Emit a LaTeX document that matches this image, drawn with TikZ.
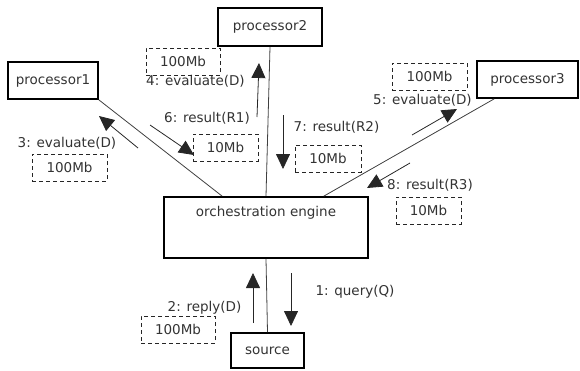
\documentclass[tikz,border=0pt]{standalone}
\usepackage{fontspec}
\setmainfont{DejaVu Sans}
\usetikzlibrary{arrows.meta,calc}
\begin{document}
\begin{tikzpicture}[x=1pt,y=-1pt,
  every node/.style={font=\fontsize{13.5}{15}\selectfont, text=black!80},
  procbox/.style={draw=black, line width=1.8pt, inner sep=0pt},
  sizebox/.style={draw=black!85, line width=0.8pt, dash pattern=on 4pt off 3pt, inner sep=0pt, minimum height=27pt},
  link/.style={draw=black!75, line width=0.8pt},
  msg/.style={draw=black!85, line width=0.8pt, -{Triangle[length=15pt,width=14pt]}},
  lbl/.style={inner sep=0pt}]
\useasboundingbox (0,0) rectangle (580,370);
% main boxes
\node[procbox, minimum width=90pt, minimum height=37pt] (p1) at (53,80.5) {processor1};
\node[procbox, minimum width=104pt, minimum height=38pt] (p2) at (270,27) {processor2};
\node[procbox, minimum width=101pt, minimum height=37pt] (p3) at (527.5,79.5) {processor3};
\node[procbox, minimum width=204pt, minimum height=61pt] (eng) at (266,227.5) {};
\node[lbl] (englabel) at (266,213) {orchestration engine};
\node[procbox, minimum width=73pt, minimum height=35pt] (src) at (267.5,350.5) {source};
% links
\draw[link] (p1.south east) -- ($(eng.north west)+(59,0)$);
\draw[link] (p2.south) -- (eng.north);
\draw[link] ($(p3.south west)+(18,0)$) -- ($(eng.north east)+(-45,0)$);
\draw[link] (eng.south) -- (src.north);
% message arrow end points
\coordinate (a3s) at (138,148); \coordinate (a3e) at (99,116);
\coordinate (a6s) at (150,125); \coordinate (a6e) at (194,155);
\coordinate (a4s) at (257,117); \coordinate (a4e) at (259,63);
\coordinate (a7s) at (283,115); \coordinate (a7e) at (283,169);
\coordinate (a5s) at (412,135); \coordinate (a5e) at (457,109);
\coordinate (a8s) at (410,163); \coordinate (a8e) at (367,188);
\coordinate (a2s) at (253,323); \coordinate (a2e) at (253,273);
\coordinate (a1s) at (291,273); \coordinate (a1e) at (291,326);
\draw[msg] (a3s) -- (a3e);
\draw[msg] (a6s) -- (a6e);
\draw[msg] (a4s) -- (a4e);
\draw[msg] (a7s) -- (a7e);
\draw[msg] (a5s) -- (a5e);
\draw[msg] (a8s) -- (a8e);
\draw[msg] (a2s) -- (a2e);
\draw[msg] (a1s) -- (a1e);
% labels
\node[lbl] (l3) at (67,143) {3: evaluate(D)};
\node[sizebox, minimum width=75pt] (s3) at (69.5,167.5) {100Mb};
\node[lbl] (l6) at (207,118) {6: result(R1)};
\node[sizebox, minimum width=65pt] (s6) at (225.5,147.5) {10Mb};
\node[lbl] (l4) at (195.5,81) {4: evaluate(D)};
\node[sizebox, minimum width=74pt] (s4) at (183,61.5) {100Mb};
\node[lbl] (l7) at (336.5,127) {7: result(R2)};
\node[sizebox, minimum width=66pt] (s7) at (328,158.5) {10Mb};
\node[lbl] (l5) at (422.5,100) {5: evaluate(D)};
\node[sizebox, minimum width=75pt] (s5) at (429.5,76.5) {100Mb};
\node[lbl] (l8) at (430,185) {8: result(R3)};
\node[sizebox, minimum width=65pt] (s8) at (428.5,210.5) {10Mb};
\node[lbl] (l2) at (204.5,308) {2: reply(D)};
\node[sizebox, minimum width=74pt] (s2) at (178,329.5) {100Mb};
\node[lbl] (l1) at (355,292) {1: query(Q)};
\end{tikzpicture}
\end{document}
